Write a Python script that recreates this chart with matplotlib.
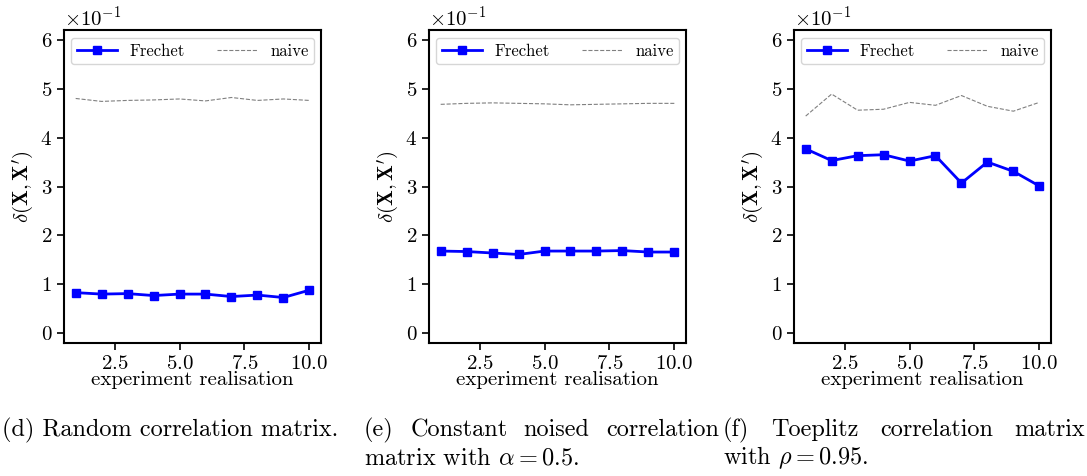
import numpy as np
import matplotlib
matplotlib.use('Agg')
import matplotlib.pyplot as plt

plt.rcParams['font.family'] = 'serif'
plt.rcParams['font.serif'] = ['cmr10']
plt.rcParams['mathtext.fontset'] = 'cm'
plt.rcParams['axes.formatter.use_mathtext'] = True
plt.rcParams['axes.unicode_minus'] = True

x = np.arange(1, 11)

# values (x 10^-1 on the axis)
frechet_d = [0.083, 0.080, 0.081, 0.077, 0.080, 0.080, 0.075, 0.078, 0.073, 0.088]
naive_d = [0.480, 0.474, 0.476, 0.477, 0.479, 0.475, 0.482, 0.476, 0.479, 0.476]
frechet_e = [0.168, 0.167, 0.164, 0.161, 0.168, 0.168, 0.168, 0.169, 0.166, 0.166]
naive_e = [0.468, 0.470, 0.471, 0.470, 0.469, 0.467, 0.468, 0.469, 0.470, 0.470]
frechet_f = [0.377, 0.353, 0.363, 0.365, 0.352, 0.363, 0.307, 0.350, 0.331, 0.301]
naive_f = [0.444, 0.489, 0.456, 0.458, 0.472, 0.466, 0.486, 0.464, 0.454, 0.472]

panels = [(frechet_d, naive_d), (frechet_e, naive_e), (frechet_f, naive_f)]
lefts = [64, 429, 794]

fig = plt.figure(figsize=(10.87, 4.76), dpi=100)
W, H = 1087, 476

for (fr, nv), l in zip(panels, lefts):
    ax = fig.add_axes([l / W, 1 - 343 / H, 257 / W, 313 / H])
    ax.plot(x, fr, color='blue', marker='s', markersize=6, lw=2, label='Frechet')
    ax.plot(x, nv, color='gray', ls='--', lw=0.8, label='naive')
    ax.set_ylim(-0.02, 0.62)
    ax.set_xticks([2.5, 5.0, 7.5, 10.0])
    ax.set_yticks([0, 0.1, 0.2, 0.3, 0.4, 0.5, 0.6])
    ax.ticklabel_format(axis='y', style='sci', scilimits=(0, 0))
    ax.yaxis.get_offset_text().set_fontsize(15)
    ax.tick_params(labelsize=15, width=1.2, length=5)
    for s in ax.spines.values():
        s.set_linewidth(1.5)
    ax.set_xlabel('experiment realisation', fontsize=15, labelpad=-1)
    ax.set_ylabel(r"$\delta(\mathbf{X},\mathbf{X}')$", fontsize=15, labelpad=3)
    ax.legend(loc='upper center', ncol=2, fontsize=12, columnspacing=1.9,
              handlelength=2.4, borderpad=0.35, fancybox=True, framealpha=0.8,
              borderaxespad=0.45)

# captions (justified lines)
fs = 17.5
renderer = fig.canvas.get_renderer()


def justify(words, x0, x1, y):
    texts = [fig.text(0, y / H, w, fontsize=fs, va='center') for w in words]
    widths = [t.get_window_extent(renderer).width for t in texts]
    gap = (x1 - x0 - sum(widths)) / (len(words) - 1)
    pos = x0
    for t, w in zip(texts, widths):
        t.set_x(pos / W)
        pos += w + gap


fig.text(2 / W, 1 - 430 / H, '(d) Random correlation matrix.', fontsize=fs, va='center')
justify(['(e)', 'Constant', 'noised', 'correlation'], 364, 719, 476 - 430)
fig.text(364 / W, 1 - 458 / H, r'matrix with $\alpha = 0.5$.', fontsize=fs, va='center')
justify(['(f)', 'Toeplitz', 'correlation', 'matrix'], 723, 1085, 476 - 430)
fig.text(723 / W, 1 - 458 / H, r'with $\rho = 0.95$.', fontsize=fs, va='center')

fig.savefig('out.png', dpi=100)
